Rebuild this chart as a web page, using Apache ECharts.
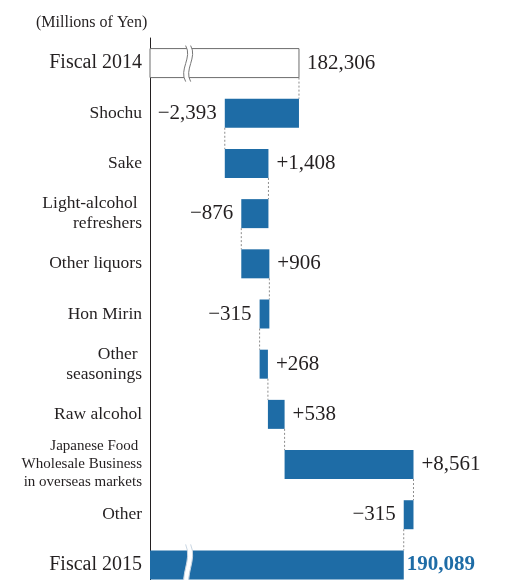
<!DOCTYPE html>
<html>
<head>
<meta charset="utf-8">
<style>
  html, body { margin: 0; padding: 0; background: #ffffff; overflow: hidden; }
  #chart { width: 512px; height: 591px; }
</style>
<script src="https://cdn.jsdelivr.net/npm/echarts@6/dist/echarts.min.js"></script>
</head>
<body>
<div id="chart"></div>
<script>
// ---- data ----
const categories = [
  'Fiscal 2014',
  'Shochu',
  'Sake',
  'Light-alcohol \nrefreshers',
  'Other liquors',
  'Hon Mirin',
  'Other \nseasonings',
  'Raw alcohol',
  'Japanese Food \nWholesale Business\nin overseas markets',
  'Other',
  'Fiscal 2015'
];
const startTotal = 182306;
const endTotal = 190089;
const changes = [-2393, 1408, -876, 906, -315, 268, 538, 8561, -315];
const unitLabel = '(Millions of Yen)';

// axis (broken value axis)
const axisMin = 177500;
const axisMax = 190700;
const breakStart = 182600;
const breakEnd = 189800;
const squiggleValue = 178650;

// ---- styles ----
const BLUE = '#1e6ca6';
const INK = '#231f20';
const FONT = '"Liberation Serif", "Times New Roman", serif';

function fmt(v) { return Math.abs(v).toLocaleString('en-US'); }

// build waterfall items
const items = [];
items.push({ cat: 0, from: axisMin, to: startTotal, kind: 'start', label: fmt(startTotal) });
let run = startTotal;
changes.forEach(function (c, i) {
  items.push({ cat: i + 1, from: run, to: run + c, kind: c < 0 ? 'neg' : 'pos',
               label: (c < 0 ? '\u2212' : '+') + fmt(c) });
  run += c;
});
items.push({ cat: categories.length - 1, from: axisMin, to: endTotal, kind: 'end', label: fmt(endTotal) });

const seriesData = items.map(function (it) { return [it.from, it.cat, it.to]; });

const BAR_H = 29;

function renderItem(params, api) {
  const idx = params.dataIndex;
  const it = items[idx];
  const yC = api.coord([it.from, it.cat])[1];
  const xa = api.coord([Math.min(it.from, it.to), it.cat])[0];
  const xb = api.coord([Math.max(it.from, it.to), it.cat])[0];
  const top = yC - BAR_H / 2;
  const children = [];

  // bar
  if (it.kind === 'start') {
    children.push({ type: 'rect', shape: { x: xa, y: top, width: xb - xa, height: BAR_H },
      style: { fill: '#ffffff', stroke: '#6d6d6d', lineWidth: 1 } });
  } else {
    children.push({ type: 'rect', shape: { x: xa, y: top, width: xb - xa, height: BAR_H },
      style: { fill: BLUE } });
  }

  // connector to next bar
  if (idx < items.length - 1) {
    const nx = items[idx + 1];
    const xe = api.coord([it.to, it.cat])[0];
    const yNextTop = api.coord([nx.from, nx.cat])[1] - BAR_H / 2;
    children.push({ type: 'line', shape: { x1: xe, y1: top + BAR_H, x2: xe, y2: yNextTop },
      style: { stroke: '#8c8c8c', lineWidth: 1, lineDash: [2, 2] } });
  }

  // break squiggle on total bars
  if (it.kind === 'start' || it.kind === 'end') {
    const xs = api.coord([squiggleValue, it.cat])[0];
    const ya = it.kind === 'start' ? top - 3 : top - 6;
    const yb = it.kind === 'start' ? top + BAR_H + 4 : top + BAR_H + 12;
    const L = yb - ya;
    const a = 7, w = 5;
    const c1 = 'M' + xs + ' ' + ya + ' C' + (xs + a) + ' ' + (ya + L / 3) + ' ' + (xs - a) + ' ' + (ya + 2 * L / 3) + ' ' + xs + ' ' + yb;
    const c2 = 'M' + (xs + w) + ' ' + ya + ' C' + (xs + w + a) + ' ' + (ya + L / 3) + ' ' + (xs + w - a) + ' ' + (ya + 2 * L / 3) + ' ' + (xs + w) + ' ' + yb;
    const band = 'M' + xs + ' ' + ya + ' C' + (xs + a) + ' ' + (ya + L / 3) + ' ' + (xs - a) + ' ' + (ya + 2 * L / 3) + ' ' + xs + ' ' + yb +
      ' L' + (xs + w) + ' ' + yb + ' C' + (xs + w - a) + ' ' + (ya + 2 * L / 3) + ' ' + (xs + w + a) + ' ' + (ya + L / 3) + ' ' + (xs + w) + ' ' + ya + ' Z';
    const edge = it.kind === 'start' ? '#777777' : '#c9d6e2';
    children.push({ type: 'path', shape: { pathData: band }, style: { fill: '#ffffff', stroke: null } });
    children.push({ type: 'path', shape: { pathData: c1 }, style: { fill: null, stroke: edge, lineWidth: 1 } });
    children.push({ type: 'path', shape: { pathData: c2 }, style: { fill: null, stroke: edge, lineWidth: 1 } });
  }

  // value label
  let lx, align, fill = INK, weight = 'normal';
  if (it.kind === 'neg') { lx = xa - 8; align = 'right'; }
  else if (it.kind === 'end') { lx = xb + 3; align = 'left'; fill = BLUE; weight = 'bold'; }
  else { lx = xb + 8; align = 'left'; }
  children.push({ type: 'text', style: {
    text: it.label, x: lx, y: yC, fill: fill,
    font: weight + ' 21px ' + FONT,
    align: align, verticalAlign: 'middle',
    textAlign: align, textVerticalAlign: 'middle'
  } });

  return { type: 'group', children: children };
}

const chart = echarts.init(document.getElementById('chart'), null, { renderer: 'canvas' });
chart.setOption({
  animation: false,
  backgroundColor: '#ffffff',
  title: {
    text: unitLabel, left: 31, top: 10,
    textStyle: { fontFamily: FONT, fontSize: 16, fontWeight: 'normal', color: INK }
  },
  grid: { left: 150, top: 38, width: 272.7, height: 552, containLabel: false },
  xAxis: {
    type: 'value', min: axisMin, max: axisMax, show: false,
    breaks: [{ start: breakStart, end: breakEnd, gap: '31.8%' }],
    breakArea: { show: false }
  },
  yAxis: {
    type: 'category', data: categories, inverse: true,
    axisLine: { show: true, lineStyle: { color: INK, width: 1 } },
    axisTick: { show: false },
    splitLine: { show: false },
    axisLabel: {
      margin: 8, color: INK, fontFamily: FONT,
      formatter: function (val, i) {
        const style = (i === 0 || i === categories.length - 1) ? 'f' : (i === 8 ? 'j' : 'n');
        return val.split('\n').map(function (s) { return '{' + style + '|' + s + '}'; }).join('\n');
      },
      rich: {
        f: { fontFamily: FONT, fontSize: 20, lineHeight: 24, color: INK },
        n: { fontFamily: FONT, fontSize: 17.5, lineHeight: 20, color: INK },
        j: { fontFamily: FONT, fontSize: 15, lineHeight: 18, color: INK }
      }
    }
  },
  series: [{
    type: 'custom',
    renderItem: renderItem,
    encode: { x: [0, 2], y: 1 },
    data: seriesData,
    clip: false
  }]
});
</script>
</body>
</html>
